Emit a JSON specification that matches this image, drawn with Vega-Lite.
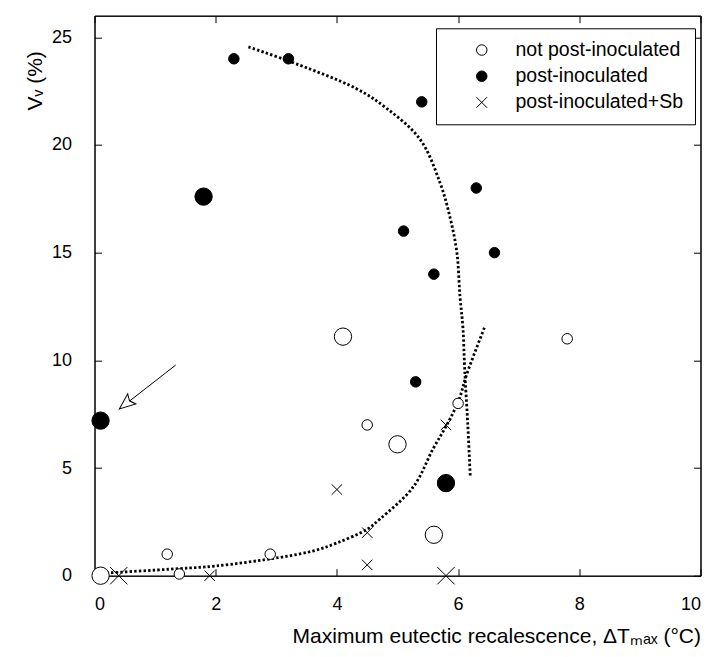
{
  "$schema": "https://vega.github.io/schema/vega-lite/v6.json",
  "width": 606,
  "height": 560,
  "autosize": "none",
  "padding": {"left": 94.5, "top": 15.7, "right": 14.5, "bottom": 81.3},
  "background": "white",
  "config": {
    "view": {"stroke": "black", "strokeWidth": 1},
    "font": "Liberation Sans",
    "axis": {
      "grid": false,
      "domainColor": "black",
      "tickColor": "black",
      "labelColor": "black",
      "titleColor": "black",
      "labelFont": "Liberation Sans",
      "titleFont": "Liberation Sans",
      "labelFontSize": 18,
      "titleFontSize": 21,
      "titleFontWeight": "normal",
      "tickSize": -7,
      "labelPadding": 27
    },
    "legend": {
      "orient": "none",
      "legendX": 341.5,
      "legendY": 12.6,
      "strokeColor": "black",
      "fillColor": "white",
      "padding": 12,
      "labelFont": "Liberation Sans",
      "labelFontSize": 19.5,
      "labelColor": "black",
      "labelLimit": 400,
      "symbolSize": 110,
      "symbolStrokeColor": "black",
      "symbolStrokeWidth": 1,
      "rowPadding": 5.2,
      "symbolOffset": 24,
      "labelOffset": 24
    }
  },
  "datasets": {
    "points": [
      {"x": 0.1, "y": 0, "group": "not post-inoculated", "marker": "large"},
      {"x": 1.2, "y": 1, "group": "not post-inoculated", "marker": "small"},
      {"x": 1.4, "y": 0.08, "group": "not post-inoculated", "marker": "small"},
      {"x": 2.9, "y": 1, "group": "not post-inoculated", "marker": "small"},
      {"x": 4.1, "y": 11.1, "group": "not post-inoculated", "marker": "large"},
      {"x": 4.5, "y": 7, "group": "not post-inoculated", "marker": "small"},
      {"x": 5.0, "y": 6.1, "group": "not post-inoculated", "marker": "large"},
      {"x": 6.0, "y": 8, "group": "not post-inoculated", "marker": "small"},
      {"x": 5.6, "y": 1.9, "group": "not post-inoculated", "marker": "large"},
      {"x": 7.8, "y": 11, "group": "not post-inoculated", "marker": "small"},
      {"x": 2.3, "y": 24, "group": "post-inoculated", "marker": "small"},
      {"x": 3.2, "y": 24, "group": "post-inoculated", "marker": "small"},
      {"x": 1.8, "y": 17.6, "group": "post-inoculated", "marker": "large"},
      {"x": 0.1, "y": 7.2, "group": "post-inoculated", "marker": "large"},
      {"x": 5.4, "y": 22, "group": "post-inoculated", "marker": "small"},
      {"x": 5.1, "y": 16, "group": "post-inoculated", "marker": "small"},
      {"x": 6.3, "y": 18, "group": "post-inoculated", "marker": "small"},
      {"x": 6.6, "y": 15, "group": "post-inoculated", "marker": "small"},
      {"x": 5.6, "y": 14, "group": "post-inoculated", "marker": "small"},
      {"x": 5.3, "y": 9, "group": "post-inoculated", "marker": "small"},
      {"x": 5.8, "y": 4.3, "group": "post-inoculated", "marker": "large"},
      {"x": 0.4, "y": 0, "group": "post-inoculated+Sb", "marker": "large"},
      {"x": 1.9, "y": 0, "group": "post-inoculated+Sb", "marker": "small"},
      {"x": 4.0, "y": 4, "group": "post-inoculated+Sb", "marker": "small"},
      {"x": 4.5, "y": 2, "group": "post-inoculated+Sb", "marker": "small"},
      {"x": 4.5, "y": 0.5, "group": "post-inoculated+Sb", "marker": "small"},
      {"x": 5.8, "y": 7, "group": "post-inoculated+Sb", "marker": "small"},
      {"x": 5.8, "y": 0, "group": "post-inoculated+Sb", "marker": "large"}
    ],
    "curves": [
      {"curve": "rise", "i": 0, "x": 0.05, "y": 0.1},
      {"curve": "rise", "i": 1, "x": 1.4, "y": 0.33},
      {"curve": "rise", "i": 2, "x": 2.0, "y": 0.45},
      {"curve": "rise", "i": 3, "x": 3.06, "y": 0.85},
      {"curve": "rise", "i": 4, "x": 3.61, "y": 1.15},
      {"curve": "rise", "i": 5, "x": 4.0, "y": 1.52},
      {"curve": "rise", "i": 6, "x": 4.5, "y": 2.16},
      {"curve": "rise", "i": 7, "x": 4.71, "y": 2.63},
      {"curve": "rise", "i": 8, "x": 5.26, "y": 4.12},
      {"curve": "rise", "i": 9, "x": 5.59, "y": 5.91},
      {"curve": "rise", "i": 10, "x": 5.81, "y": 6.98},
      {"curve": "rise", "i": 11, "x": 6.01, "y": 8.14},
      {"curve": "rise", "i": 12, "x": 6.14, "y": 9.33},
      {"curve": "rise", "i": 13, "x": 6.44, "y": 11.56},
      {"curve": "fall", "i": 0, "x": 2.54, "y": 24.55},
      {"curve": "fall", "i": 1, "x": 3.2, "y": 23.9},
      {"curve": "fall", "i": 2, "x": 4.33, "y": 22.6},
      {"curve": "fall", "i": 3, "x": 4.82, "y": 21.7},
      {"curve": "fall", "i": 4, "x": 5.37, "y": 20.27},
      {"curve": "fall", "i": 5, "x": 5.7, "y": 18.26},
      {"curve": "fall", "i": 6, "x": 5.87, "y": 16.6},
      {"curve": "fall", "i": 7, "x": 5.98, "y": 15.0},
      {"curve": "fall", "i": 8, "x": 6.03, "y": 13.0},
      {"curve": "fall", "i": 9, "x": 6.08, "y": 11.5},
      {"curve": "fall", "i": 10, "x": 6.11, "y": 9.5},
      {"curve": "fall", "i": 11, "x": 6.16, "y": 7.0},
      {"curve": "fall", "i": 12, "x": 6.2, "y": 4.64}
    ],
    "arrow": [
      {"x0": 1.34, "y0": 9.78, "x1": 0.41, "y1": 7.74}
    ]
  },
  "layer": [
    {
      "data": {"name": "curves"},
      "mark": {"type": "line", "stroke": "black", "strokeWidth": 2.8, "strokeDash": [2.4, 2.2], "interpolate": "catmull-rom", "strokeCap": "butt"},
      "encoding": {
        "x": {"field": "x", "type": "quantitative", "scale": {"domain": [0, 10]},
              "axis": {"orient": "top", "labels": false, "title": null, "values": [0, 2, 4, 6, 8, 10]}},
        "y": {"field": "y", "type": "quantitative", "scale": {"domain": [0, 25]},
              "axis": {"orient": "right", "labels": false, "title": null, "values": [0, 5, 10, 15, 20, 25]}},
        "detail": {"field": "curve"},
        "order": {"field": "i", "type": "quantitative"}
      }
    },
    {
      "data": {"name": "arrow"},
      "mark": {"type": "rule", "stroke": "black", "strokeWidth": 1},
      "encoding": {
        "x": {"field": "x0", "type": "quantitative", "axis": null},
        "y": {"field": "y0", "type": "quantitative", "axis": null},
        "x2": {"field": "x1"},
        "y2": {"field": "y1"}
      }
    },
    {
      "data": {"name": "arrow"},
      "mark": {"type": "point", "shape": "M0,0L1.3,3.2L0,2.6L-1.3,3.2Z", "size": 100, "angle": 231, "filled": true, "fill": "white", "stroke": "black", "strokeWidth": 1, "opacity": 1},
      "encoding": {
        "x": {"field": "x1", "type": "quantitative", "axis": null},
        "y": {"field": "y1", "type": "quantitative", "axis": null}
      }
    },
    {
      "data": {"name": "points"},
      "mark": {"type": "point", "filled": true, "strokeWidth": 1, "opacity": 1},
      "encoding": {
        "x": {"field": "x", "type": "quantitative",
              "axis": {"orient": "bottom", "values": [0, 2, 4, 6, 8, 10], "title": "Maximum eutectic recalescence, ΔTₘₐₓ (°C)", "titleAnchor": "end", "titlePadding": 12}},
        "y": {"field": "y", "type": "quantitative",
              "axis": {"orient": "left", "values": [0, 5, 10, 15, 20, 25], "labelPadding": 30, "title": "Vᵥ (%)", "titleAlign": "right", "titleAnchor": "end", "titleY": 35, "titleX": -49, "titleBaseline": "bottom"}},
        "shape": {"field": "group", "type": "nominal",
                  "scale": {"domain": ["not post-inoculated", "post-inoculated", "post-inoculated+Sb"], "range": ["circle", "circle", "M-1,-1L1,1M-1,1L1,-1"]},
                  "legend": {"title": null}},
        "fill": {"field": "group", "type": "nominal",
                 "scale": {"domain": ["not post-inoculated", "post-inoculated", "post-inoculated+Sb"], "range": ["white", "black", "white"]},
                 "legend": {"title": null}},
        "stroke": {"field": "group", "type": "nominal",
                 "scale": {"domain": ["not post-inoculated", "post-inoculated", "post-inoculated+Sb"], "range": ["black", "black", "black"]},
                 "legend": {"title": null}},
        "size": {"field": "marker", "type": "nominal",
                 "scale": {"domain": ["small", "large"], "range": [110, 300]},
                 "legend": null}
      }
    }
  ],
  "resolve": {"axis": {"x": "independent", "y": "independent"}}
}
